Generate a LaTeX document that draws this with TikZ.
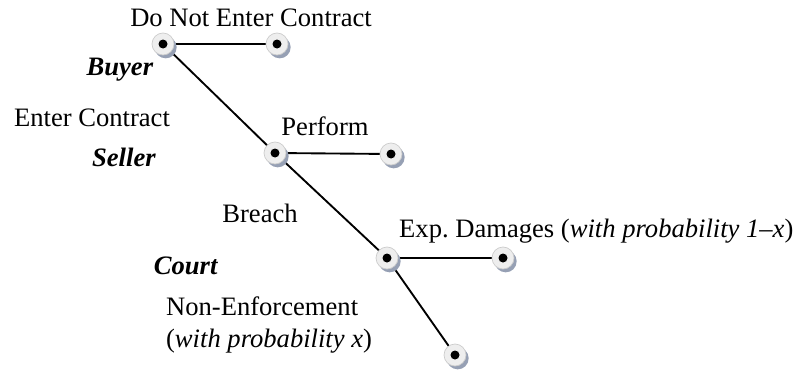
\documentclass[tikz,border=0pt]{standalone}
\usepackage{fontspec}
\setmainfont{Liberation Serif}
\usepackage{tikz-network}
\usetikzlibrary{shadows}

\definecolor{discfill}{RGB}{238,238,238}
\definecolor{discshade}{RGB}{150,160,180}
\SetVertexStyle[LineWidth=0.6pt,LineColor=gray!40]
\tikzset{
  disc/.style={drop shadow={shadow xshift=0.08cm,shadow yshift=-0.1cm,fill=discshade,opacity=1},
    path picture={\fill[black] (path picture bounding box.center) circle (0.135);}},
  lbl/.style={font=\fontsize{22.7}{27}\selectfont}
}

\begin{document}
\begin{tikzpicture}
  \useasboundingbox (0,0) rectangle (23.88,11.16);
  \Vertex[x=4.89,y=9.84,size=0.66,color=discfill,opacity=1,style={disc}]{B}
  \Vertex[x=8.31,y=9.84,size=0.66,color=discfill,opacity=1,style={disc}]{T1}
  \Vertex[x=8.25,y=6.57,size=0.66,color=discfill,opacity=1,style={disc}]{S}
  \Vertex[x=11.73,y=6.54,size=0.66,color=discfill,opacity=1,style={disc}]{T2}
  \Vertex[x=11.61,y=3.42,size=0.66,color=discfill,opacity=1,style={disc}]{C}
  \Vertex[x=15.09,y=3.42,size=0.66,color=discfill,opacity=1,style={disc}]{T3}
  \Vertex[x=13.65,y=0.51,size=0.66,color=discfill,opacity=1,style={disc}]{T4}
  \Edge[lw=1.6,color=black](B)(T1)
  \Edge[lw=1.6,color=black](B)(S)
  \Edge[lw=1.6,color=black](S)(T2)
  \Edge[lw=1.6,color=black](S)(C)
  \Edge[lw=1.6,color=black](C)(T3)
  \Edge[lw=1.6,color=black](C)(T4)
  \node[lbl] (dne) at (7.53,10.62) {Do Not Enter Contract};
  \node[lbl] (buyer) at (3.6,9.06) {\textbf{\textit{Buyer}}};
  \node[lbl] (enter) at (2.76,7.62) {Enter Contract};
  \node[lbl] (seller) at (3.72,6.45) {\textbf{\textit{Seller}}};
  \node[lbl] (perform) at (9.75,7.38) {Perform};
  \node[lbl] (breach) at (7.8,4.77) {Breach};
  \node[lbl,anchor=west,inner sep=0pt] (damages) at (11.97,4.23) {Exp.\ Damages (\textit{with probability 1--x})};
  \node[lbl] (court) at (5.58,3.18) {\textbf{\textit{Court}}};
  \node[lbl,anchor=west,align=left] (nonenf) at (4.86,1.41) {Non-Enforcement\\(\textit{with probability x})};
\end{tikzpicture}
\end{document}
